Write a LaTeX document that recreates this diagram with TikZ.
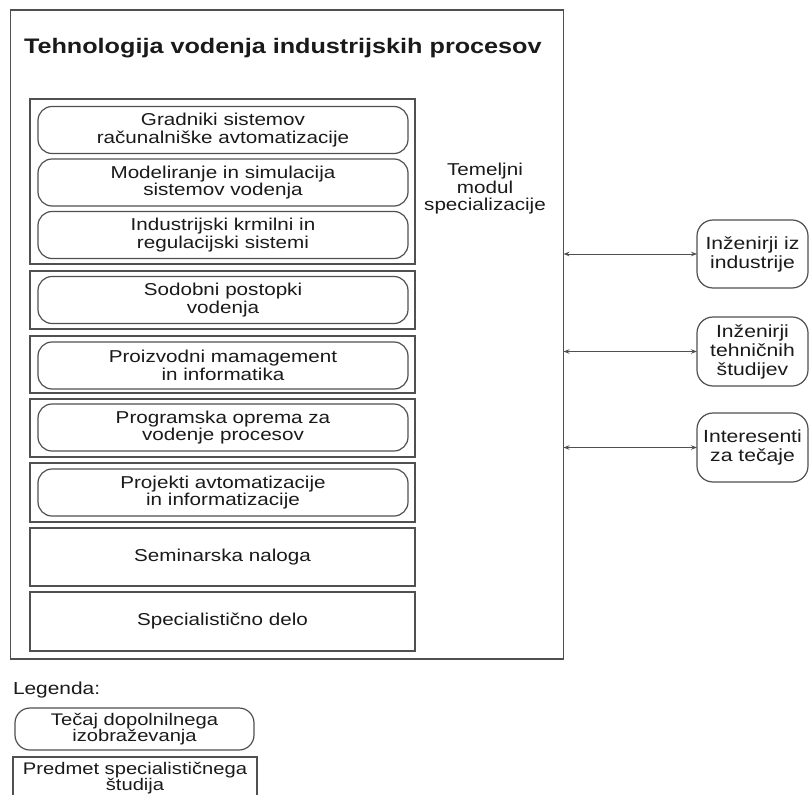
\documentclass[tikz,border=0pt]{standalone}
\usepackage{fontspec}
\setmainfont{Liberation Sans}[FakeStretch=1.2]
\usetikzlibrary{arrows.meta}
\definecolor{lc}{HTML}{505050}
\definecolor{tc}{HTML}{1A1A1A}
\begin{document}
\begin{tikzpicture}[x=1pt,y=-1pt,
  every node/.style={inner sep=0pt, outer sep=0pt, align=center, text=tc,
    font=\fontsize{17.2}{17.5}\selectfont},
  grp/.style={draw=lc, line width=1.4pt, minimum width=385pt},
  crs/.style={draw=lc, line width=1.2pt, rounded corners=14pt, minimum width=370pt, minimum height=47pt},
  aud/.style={draw=lc, line width=1.2pt, rounded corners=16pt, minimum width=111pt, minimum height=69pt,
    font=\fontsize{17.6}{19}\selectfont},
  link/.style={{Stealth[length=6pt,width=4.5pt]}-{Stealth[length=6pt,width=4.5pt]}, line width=1pt, draw=lc}]
\useasboundingbox (0,0) rectangle (809,795);
\clip (0,0) rectangle (809,795);
\fill[white] (0,0) rectangle (809,795);

\node[draw=lc, line width=1.4pt, minimum width=553pt, minimum height=649pt] (outer) at (287,334.5) {};
\node[anchor=base west, font=\bfseries\fontsize{21}{24}\selectfont] (title) at (24,53) {Tehnologija vodenja industrijskih procesov};

\node[grp, minimum height=165pt] (g1) at (222.5,181.5) {};
\node[crs] (c1) at (223,130) {Gradniki sistemov\\računalniške avtomatizacije};
\node[crs] (c2) at (223,182.5) {Modeliranje in simulacija\\sistemov vodenja};
\node[crs] (c3) at (223,235) {Industrijski krmilni in\\regulacijski sistemi};

\node[grp, minimum height=58pt] (g2) at (222.5,300) {};
\node[crs] (c4) at (223,300) {Sodobni postopki\\vodenja};
\node[grp, minimum height=57pt] (g3) at (222.5,364.5) {};
\node[crs] (c5) at (223,365.5) {Proizvodni mamagement\\in informatika};
\node[grp, minimum height=58pt] (g4) at (222.5,428) {};
\node[crs] (c6) at (223,427.5) {Programska oprema za\\vodenje procesov};
\node[grp, minimum height=59pt] (g5) at (222.5,492.5) {};
\node[crs] (c7) at (223,492.5) {Projekti avtomatizacije\\in informatizacije};
\node[grp, minimum height=58pt] (g6) at (222.5,557) {Seminarska naloga};
\node[grp, minimum height=59pt] (g7) at (222.5,621.5) {Specialistično delo};

\node (mod) at (485,189) {Temeljni\\modul\\specializacije};

\node[aud, minimum height=68pt] (a1) at (752.5,254) {Inženirji iz\\industrije};
\node[aud] (a2) at (752.5,351.5) {Inženirji\\tehničnih\\študijev};
\node[aud] (a3) at (752.5,447.5) {Interesenti\\za tečaje};

\draw[link] (outer.east |- a1.west) -- (a1.west);
\draw[link] (outer.east |- a2.west) -- (a2.west);
\draw[link] (outer.east |- a3.west) -- (a3.west);

\node[anchor=west, font=\fontsize{17.4}{18}\selectfont] (leg) at (13,690) {Legenda:};
\node[draw=lc, line width=1.2pt, rounded corners=15pt, minimum width=239pt, minimum height=42pt,
  font=\fontsize{16.8}{16.5}\selectfont] (l1) at (134.5,729) {Tečaj dopolnilnega\\izobraževanja};
\node[draw=lc, line width=1.2pt, minimum width=244pt, minimum height=42pt,
  font=\fontsize{16.8}{16.5}\selectfont] (l2) at (135,778) {Predmet specialističnega\\študija};
\end{tikzpicture}
\end{document}
